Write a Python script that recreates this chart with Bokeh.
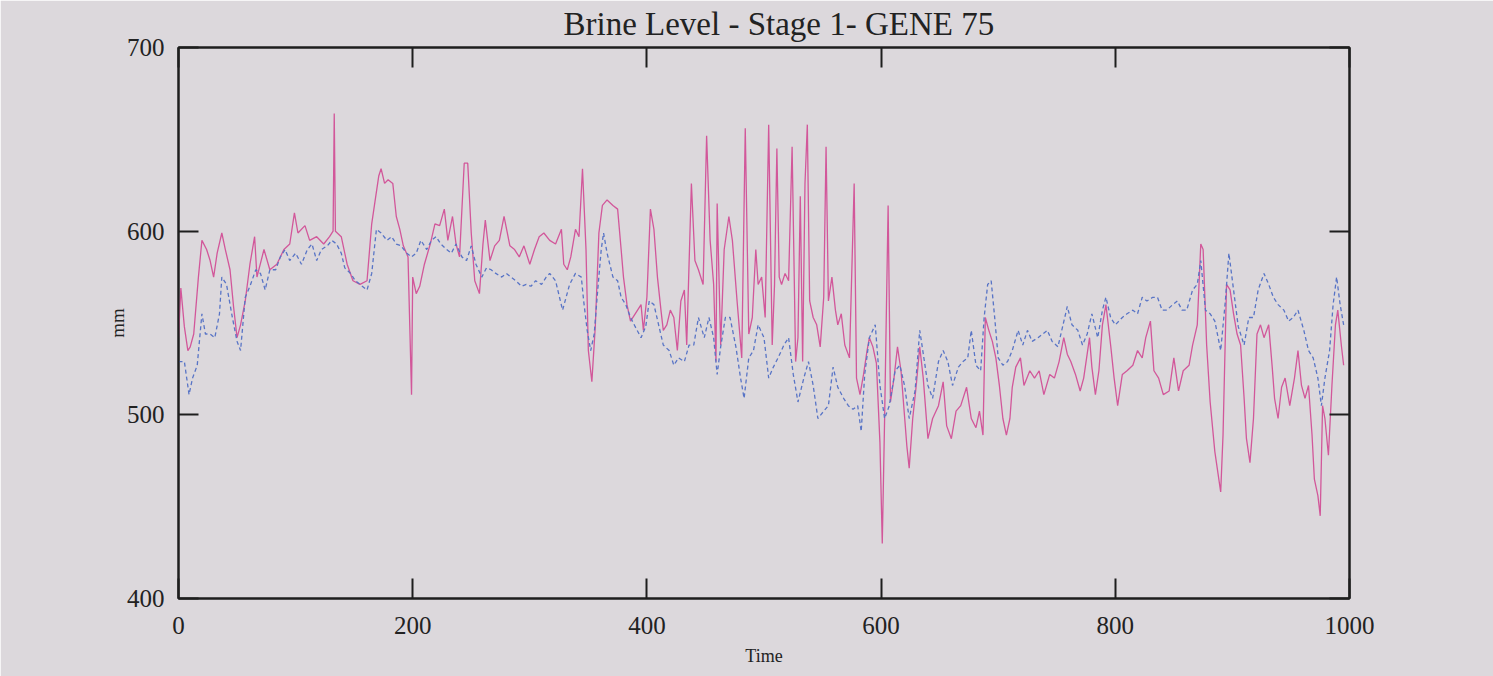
from bokeh.plotting import figure
from bokeh.models import LinearAxis, FixedTicker, Range1d, CustomLabelingPolicy
from bokeh.embed import file_html
from bokeh.resources import INLINE

# --- data ---
pink_t = [0, 2, 5, 8, 10, 13, 17, 20, 24, 27, 30, 33, 37, 40, 44, 47, 50, 53, 57, 61, 65, 67, 73, 78, 84, 90, 95, 99, 102, 108, 112, 118, 124, 129, 132, 133, 134, 139, 144, 149,
          155, 161, 165, 168, 171, 173, 176, 179, 183, 186, 189, 192, 196, 199, 200, 203, 206, 210, 215, 219, 223, 227, 230, 234, 237, 240, 244, 247, 250, 253, 257, 260, 262, 266, 270, 274, 278, 283, 287, 291, 295, 300, 304, 308, 312,
          317, 322, 327, 329, 332, 335, 339, 342, 345, 348, 350, 353, 356, 359, 362, 366, 371, 375, 378, 380, 383, 386, 390, 395, 397, 400, 403, 406, 409, 412, 414, 417, 420, 423, 426, 429, 432, 434, 438, 441, 444, 448, 451, 454, 457, 459, 460, 463, 466, 470, 473, 477,
          481, 484, 487, 490, 493, 495, 498, 501, 504, 507, 509, 511, 513, 515, 518, 521, 524, 527, 529, 531, 533, 535, 537, 539, 542, 545, 548, 551, 553, 555, 558, 561, 563, 566, 569, 573, 577, 579, 582, 585, 588, 590, 593, 596, 599, 601, 603, 606, 608, 611, 614, 617, 622, 624, 627, 630, 633, 636,
          640, 644, 649, 653, 656, 660, 664, 668, 673, 677, 681, 684, 687, 689, 692, 695, 698, 701, 704, 707, 710, 712, 715, 719, 722, 727, 731, 735, 739, 744, 748, 752, 756, 759, 762, 766, 770, 773, 778, 780, 783, 786, 789, 792, 796, 799,
          802, 806, 810, 815, 819, 823, 826, 830, 833, 837, 841, 846, 850, 854, 858, 863, 866, 870, 873, 875, 878, 881, 885, 890, 892, 895, 898, 901, 904, 907, 910, 912, 915, 918, 921, 924, 927, 931, 934, 936, 939, 942, 945, 949, 953, 956, 959, 962, 965, 968, 970, 973, 975, 977, 979, 982, 985, 988, 990, 993, 995]
pink_v = [542, 569, 548, 535, 537, 544, 575, 595, 590, 584, 575, 588, 599, 590, 579, 559, 542, 549, 562, 582, 597, 575, 590, 579, 582, 590, 593, 610, 599, 603, 595, 597, 593, 597, 600, 664, 600, 597, 582, 573,
          571, 573, 604, 617, 630, 634, 626, 628, 626, 608, 601, 592, 586, 511, 575, 566, 570, 582, 593, 604, 603, 612, 595, 608, 593, 586, 637, 637, 599, 573, 566, 593, 606, 584, 592, 595, 608, 592, 590, 586, 592, 582, 590, 597, 599,
          595, 593, 601, 582, 579, 586, 601, 597, 634, 590, 535, 518, 549, 599, 614, 617, 614, 612, 590, 575, 560, 551, 555, 560, 546, 564, 612, 601, 575, 557, 546, 549, 557, 553, 535, 562, 568, 538, 626, 584, 579, 571, 652, 595, 571, 529, 615, 538, 590, 608, 595, 562,
          531, 656, 544, 553, 590, 571, 575, 553, 658, 538, 571, 645, 575, 571, 577, 573, 646, 529, 542, 619, 529, 626, 658, 562, 553, 549, 537, 564, 646, 562, 575, 557, 549, 555, 538, 531, 626, 520, 511, 522, 535, 542, 537, 528, 485, 430, 498, 614, 507, 520, 537, 524, 483, 471, 498, 516, 537, 520,
          487, 498, 505, 518, 494, 487, 502, 505, 515, 498, 493, 502, 489, 553, 546, 540, 531, 516, 498, 489, 498, 515, 526, 531, 516, 524, 520, 524, 511, 522, 520, 529, 542, 533, 529, 522, 513, 520, 542, 526, 511, 524, 549, 560, 538, 520,
          505, 522, 524, 527, 535, 531, 542, 551, 524, 520, 511, 513, 531, 513, 524, 527, 538, 549, 593, 590, 538, 507, 480, 458, 489, 571, 568, 555, 544, 538, 509, 487, 474, 498, 544, 549, 542, 549, 526, 509, 498, 515, 520, 505, 520, 535, 516, 509, 516, 489, 465, 456, 445, 505, 498, 478, 516, 549, 557, 538, 527]

blue_t = [0, 5, 9, 12, 16, 20, 23, 27, 31, 35, 37, 41, 46, 50, 53, 57, 61, 66, 70, 74, 78, 83, 87, 91, 95, 100, 105, 110, 114, 118, 122, 127, 131, 135, 139, 142, 147, 151,
          155, 161, 165, 169, 173, 178, 182, 186, 190, 195, 199, 203, 207, 212, 216, 220, 224, 229, 233, 237, 242, 246, 250, 254, 259, 263, 267, 271, 276, 280, 284, 288, 293, 297, 301, 305, 310, 314,
          317, 322, 328, 334, 339, 344, 346, 349, 352, 355, 358, 361, 363, 366, 371, 375, 378, 382, 386, 390, 395, 399, 402, 406, 410, 414, 419, 423, 427, 432, 436, 440, 444, 449, 453, 457, 460, 463, 467, 471, 476,
          480, 483, 487, 491, 495, 500, 504, 508, 512, 517, 521, 525, 529, 534, 538, 542, 546, 551, 555, 559, 563, 568, 572, 576, 580, 583, 586, 590, 595, 599, 603, 607, 612, 616, 620, 624, 629, 633, 637,
          640, 644, 649, 653, 657, 661, 666, 670, 674, 677, 681, 685, 688, 691, 694, 697, 700, 704, 708, 712, 717, 721, 725, 729, 734, 738, 742, 746, 751, 755, 759, 763, 768, 772, 776, 780, 785, 789, 792, 796, 800,
          806, 810, 815, 819, 823, 827, 832, 836, 840, 844, 849, 853, 857, 861, 866, 870, 873, 877, 881, 885, 890, 894, 897, 901, 905, 910, 914, 918, 922, 927, 931, 935, 939, 944, 948, 952, 956, 961, 965, 969, 973, 976, 979, 983, 986, 989, 992, 995]
blue_v = [529, 529, 511, 520, 527, 555, 544, 544, 542, 555, 575, 571, 553, 540, 535, 564, 570, 579, 577, 568, 579, 579, 586, 590, 584, 588, 582, 590, 593, 584, 590, 592, 595, 593, 588, 580, 577, 573,
          571, 568, 577, 601, 599, 595, 597, 593, 592, 588, 586, 588, 595, 590, 595, 597, 593, 590, 588, 593, 586, 584, 592, 582, 575, 580, 579, 577, 575, 577, 575, 573, 570, 571, 570, 573, 571, 575,
          577, 573, 557, 571, 577, 575, 562, 546, 535, 544, 568, 590, 599, 588, 575, 573, 564, 560, 553, 548, 542, 548, 562, 560, 549, 538, 535, 527, 531, 529, 538, 538, 553, 542, 553, 542, 522, 537, 553, 553, 537,
          520, 509, 531, 535, 549, 542, 520, 526, 531, 538, 542, 522, 507, 520, 529, 516, 498, 502, 505, 526, 515, 509, 505, 503, 505, 491, 522, 542, 549, 516, 498, 505, 524, 527, 516, 498, 513, 546, 529,
          516, 509, 529, 535, 529, 516, 526, 529, 531, 546, 527, 524, 553, 571, 573, 553, 531, 527, 529, 535, 546, 538, 546, 540, 542, 544, 546, 540, 537, 548, 559, 549, 546, 538, 544, 555, 542, 557, 564, 553, 549,
          553, 555, 557, 555, 564, 562, 564, 564, 557, 557, 560, 562, 557, 557, 568, 571, 584, 557, 555, 551, 535, 562, 588, 568, 548, 538, 553, 553, 568, 577, 571, 564, 560, 557, 551, 553, 557, 546, 535, 531, 520, 505, 520, 535, 560, 575, 560, 549]

x_ticks = [0, 200, 400, 600, 800, 1000]
y_ticks = [400, 500, 600, 700]

BG = "#dcd8dc"
INK = "#1e1e1e"
FONT = "Liberation Serif"

p = figure(width=1493, height=676, output_backend="svg", toolbar_location=None,
           x_range=Range1d(0, 1000), y_range=Range1d(400, 700),
           min_border_left=178, min_border_right=144, min_border_top=47, min_border_bottom=78)
p.background_fill_color = BG
p.border_fill_color = BG
p.outline_line_color = INK
p.outline_line_width = 2
p.grid.visible = False

p.title.text = "Brine Level - Stage 1- GENE 75"
p.title.text_font = FONT
p.title.text_font_size = "33px"
p.title.text_font_style = "normal"
p.title.text_color = "#222222"
p.title.align = "left"
p.title.offset = 385
p.title.standoff = 4

p.line(pink_t, pink_v, line_color="#d2579a", line_width=1.3)
p.line(blue_t, blue_v, line_color="#5874c6", line_width=1.3, line_dash="4 3")

hide_labels = CustomLabelingPolicy(code="for (const i of Array.from(indices)) { indices.unset(i) }")


def style(ax, ticks, labels=True):
    ax.ticker = FixedTicker(ticks=ticks)
    ax.axis_line_color = INK
    ax.axis_line_width = 2
    ax.major_tick_in = 20
    ax.major_tick_out = 0
    ax.major_tick_line_color = INK
    ax.major_tick_line_width = 2
    ax.minor_tick_line_color = None
    ax.major_label_text_font = FONT
    ax.major_label_text_color = "#222222"
    ax.major_label_text_font_size = "25px"
    if not labels:
        ax.major_label_policy = hide_labels
        ax.major_label_text_font_size = "1px"
        ax.major_label_standoff = 0


xa = p.xaxis[0]
ya = p.yaxis[0]
style(xa, x_ticks)
style(ya, y_ticks)
xa.major_label_standoff = 18
ya.major_label_standoff = 14
xa.axis_label = "Time"
ya.axis_label = "mm"
for a in (xa, ya):
    a.axis_label_text_font = FONT
    a.axis_label_text_font_style = "normal"
    a.axis_label_text_font_size = "19px"
    a.axis_label_text_color = "#222222"
xa.axis_label_text_font_size = "18px"
xa.axis_label_standoff = 9
ya.axis_label_standoff = -4

top = LinearAxis()
right = LinearAxis()
style(top, x_ticks, labels=False)
style(right, y_ticks, labels=False)
p.add_layout(top, "above")
p.add_layout(right, "right")

open("out.html", "w").write(file_html(p, INLINE))
